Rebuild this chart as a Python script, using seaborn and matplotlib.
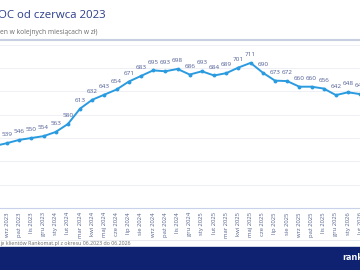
import pandas as pd
import seaborn as sns
import matplotlib.pyplot as plt
from matplotlib.lines import Line2D
from matplotlib.patches import Rectangle

# Data (first month only partly visible)
months = ["sie 2023", "wrz 2023", "paź 2023", "lis 2023", "gru 2023",
          "sty 2024", "lut 2024", "mar 2024", "kwi 2024", "maj 2024",
          "cze 2024", "lip 2024", "sie 2024", "wrz 2024", "paź 2024",
          "lis 2024", "gru 2024", "sty 2025", "lut 2025", "mar 2025",
          "kwi 2025", "maj 2025", "cze 2025", "lip 2025", "sie 2025",
          "wrz 2025", "paź 2025", "lis 2025", "gru 2025", "sty 2026",
          "lut 2026"]
prices = [533, 539, 546, 550, 554, 563, 580, 613, 632, 643,
          654, 671, 683, 695, 693, 698, 686, 693, 684, 689,
          701, 711, 690, 673, 672, 660, 660, 656, 642, 648,
          644]

df = pd.DataFrame({'idx': range(len(months)), 'month': months, 'price': prices})

sns.set_theme(style='white')
plt.rcParams['font.family'] = ['Open Sans', 'DejaVu Sans']

W, H = 360, 270
fig = plt.figure(figsize=(W / 100, H / 100), dpi=100)

def fx(px):
    return px / W

def fy(py):
    return 1 - py / H

# axes placed so the chart is cropped like the reference
ax = fig.add_axes([-11.27 / W, fy(208), 377.6 / W, (208 - 44.7) / H])

sns.lineplot(data=df, x='idx', y='price', ax=ax, color='#2b9be0', linewidth=1.4,
             marker='o', markersize=2.8, markeredgewidth=0, clip_on=False)

# value labels (the first point's label lies outside the visible area)
for i, v in zip(df['idx'][1:], df['price'][1:]):
    ax.annotate(str(v), (i, v), xytext=(0, 4.2), textcoords='offset points',
                ha='center', va='bottom', fontsize=4.6, color='#4f5d95')

ax.set_xlim(-0.5, 30.5)
ax.set_ylim(400, 750)
ax.set_yticks(range(400, 751, 50))
ax.set_yticklabels([])
ax.set_xticks(df['idx'])
ax.set_xticklabels(months, rotation=90, fontsize=4.2, color='#55648f')
ax.tick_params(axis='both', length=0)
ax.tick_params(axis='x', pad=3)
ax.grid(axis='y', color='#eceef4', linewidth=0.6)
ax.set_xlabel('')
ax.set_ylabel('')
for s in ['left', 'right', 'top']:
    ax.spines[s].set_visible(False)
ax.spines['bottom'].set_color('#c8d2ea')
ax.spines['bottom'].set_linewidth(0.8)

# header
fig.text(fx(-2), fy(15), 'OC od czerwca 2023', fontsize=8.2, color='#2c3e8c',
         ha='left', va='center')
fig.text(fx(0), fy(32.5), 'en w kolejnych miesiącach w zł)', fontsize=4.8,
         color='#6b6b6b', ha='left', va='center')
fig.add_artist(Line2D([0, 1], [fy(40), fy(40)], color='#c9cfe3', linewidth=1.5))

# footer
fig.add_artist(Line2D([0, 1], [fy(240), fy(240)], color='#e3e6ee', linewidth=0.6))
fig.text(fx(0), fy(243.5), 'je klientów Rankomat.pl z okresu 06.2023 do 06.2026',
         fontsize=3.8, color='#6b6b6b', ha='left', va='center')
fig.add_artist(Rectangle((0, 0), 1, fy(247), transform=fig.transFigure,
                         color='#0f2272', zorder=0))
fig.text(fx(342), fy(258), 'rankomat', fontsize=6.5, fontweight='bold',
         color='white', ha='left', va='center')

fig.savefig('out.png', dpi=100)
